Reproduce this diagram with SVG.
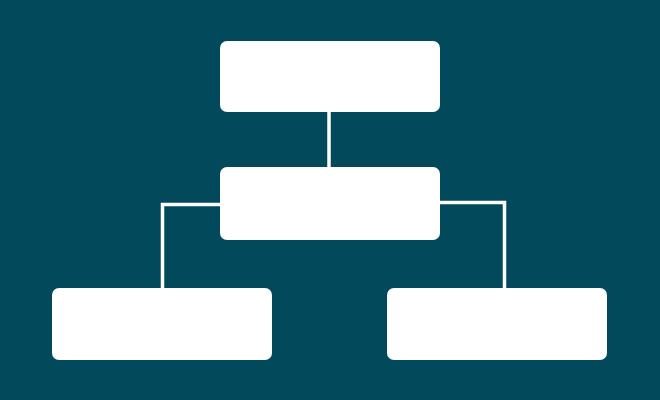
<svg xmlns="http://www.w3.org/2000/svg" width="660" height="400" viewBox="0 0 660 400">
<style>
.node{fill:#ffffff;}
.conn{fill:none;stroke:#ffffff;stroke-width:3.5;}
</style>
<rect x="0" y="0" width="660" height="400" fill="#024a5b"/>
<g id="connectors">
<line class="conn" x1="329" y1="112" x2="329" y2="168"/>
<polyline class="conn" points="221,204.5 162.5,204.5 162.5,289"/>
<polyline class="conn" points="439,202.5 504.5,202.5 504.5,289"/>
</g>
<g id="node-top"><rect class="node" x="220" y="41" width="220" height="71" rx="7"/></g>
<g id="node-middle"><rect class="node" x="220" y="167" width="220" height="73" rx="7"/></g>
<g id="node-left"><rect class="node" x="52" y="288" width="220" height="72" rx="7"/></g>
<g id="node-right"><rect class="node" x="387" y="288" width="220" height="72" rx="7"/></g>
</svg>
